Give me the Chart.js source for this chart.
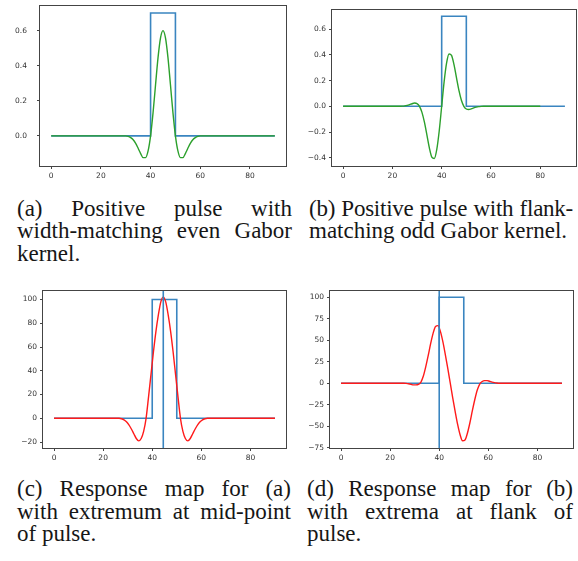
<!DOCTYPE html>
<html>
<head>
<meta charset="utf-8">
<script src="https://cdn.jsdelivr.net/npm/chart.js@4.4.0/dist/chart.umd.min.js"></script>
<style>
body{margin:0;background:#fff;width:578px;height:561px;overflow:hidden;position:relative;}
.box{position:absolute;}
.cap{position:absolute;font-family:"Liberation Serif","Times New Roman",serif;font-size:23px;line-height:22.5px;color:#161616;}
.cap .j{text-align:justify;text-align-last:justify;}
.cap .tight{letter-spacing:-0.25px;}
</style>
</head>
<body>
<div class="box" style="left:0;top:0"><canvas id="plot_a" width="290" height="185"></canvas></div>
<div class="box" style="left:290px;top:0"><canvas id="plot_b" width="288" height="185"></canvas></div>
<div class="box" style="left:0;top:282px"><canvas id="plot_c" width="290" height="185"></canvas></div>
<div class="box" style="left:290px;top:282px"><canvas id="plot_d" width="288" height="185"></canvas></div>

<div class="cap" style="left:17px;top:197.5px;width:275px">
  <div class="j">(a) Positive pulse with</div>
  <div class="j">width-matching even Gabor</div>
  <div>kernel.</div>
</div>
<div class="cap" style="left:309px;top:197.5px;width:264px">
  <div class="j tight">(b) Positive pulse with flank-</div>
  <div>matching odd Gabor kernel.</div>
</div>
<div class="cap" style="left:17px;top:478px;width:274px">
  <div class="j">(c) Response map for (a)</div>
  <div class="j">with extremum at mid-point</div>
  <div>of pulse.</div>
</div>
<div class="cap" style="left:307px;top:478px;width:266px">
  <div class="j">(d) Response map for (b)</div>
  <div class="j">with extrema at flank of</div>
  <div>pulse.</div>
</div>

<script>
// tick labels
const xTicks  = [0, 20, 40, 60, 80];
const yTicksA = [0, 0.2, 0.4, 0.6];
const yTicksB = [-0.4, -0.2, 0, 0.2, 0.4, 0.6];
const yTicksC = [-20, 0, 20, 40, 60, 80, 100];
const yTicksD = [-75, -50, -25, 0, 25, 50, 75, 100];

// the pulse (blue)
const pulseX     = [0, 40, 40, 50, 50, 90];
const pulseSmall = [0, 0, 0.7, 0.7, 0, 0];
const pulseBig   = [0, 0, 100, 100, 0, 0];

// (a) even gabor kernel
const evenX = [0, 30, 31, 32, 33, 34, 35, 36, 37, 38, 39, 40, 41, 42, 43, 44, 45,
               46, 47, 48, 49, 50, 51, 52, 53, 54, 55, 56, 57, 58, 59, 60, 90];
const evenY = [0, 0, -0.003, -0.010, -0.022, -0.043, -0.071, -0.101, -0.124, -0.124, -0.086,
               0, 0.132, 0.291, 0.446, 0.559, 0.600, 0.559, 0.446, 0.291, 0.132,
               0, -0.086, -0.124, -0.124, -0.101, -0.071, -0.043, -0.022, -0.010, -0.003, 0, 0];

// (b) odd gabor kernel
const oddX = [0, 22, 23, 24, 25, 26, 27, 28, 29, 30, 31, 32, 33, 34, 35, 36, 37, 38, 39, 40,
              41, 42, 43, 44, 45, 46, 47, 48, 49, 50, 51, 52, 53, 54, 55, 56, 57, 80];
const oddY = [0, 0, 0.0005, 0.001, 0.003, 0.007, 0.013, 0.020, 0.025, 0.021, 0,
              -0.047, -0.123, -0.222, -0.323, -0.395, -0.406, -0.337, -0.192, 0,
              0.192, 0.337, 0.406, 0.395, 0.323, 0.222, 0.123, 0.047, 0,
              -0.021, -0.025, -0.020, -0.013, -0.007, -0.003, -0.001, 0, 0];

// (c) response of the even kernel
const respEvenX = [0, 26.5, 27.5, 28.5, 29.5, 30.5, 31.5, 32.5, 33.5, 34.5, 35.5, 36.5, 37.5,
                   38.5, 39.5, 40.5, 41.5, 42.5, 43.5, 44.5, 45.5, 46.5, 47.5, 48.5, 49.5, 50.5,
                   51.5, 52.5, 53.5, 54.5, 55.5, 56.5, 57.5, 58.5, 59.5, 60.5, 61.5, 62.5, 90];
const respEvenY = [0, 0, -0.4, -1.3, -3, -5.5, -9, -13, -17, -19, -17, -11, 0,
                   18, 37, 56, 73, 87, 98, 102, 98, 87, 73, 56, 37, 18,
                   0, -11, -17, -19, -17, -13, -9, -5.5, -3, -1.3, -0.4, 0, 0];
const peakC = 44.5;

// (d) response of the odd kernel
const respOddX = [0, 25.5, 26.5, 27.5, 28.5, 29.5, 30.5, 31.5, 32.5, 33.5, 34.5, 35.5, 36.5,
                  37.5, 38.5, 39.5, 40.5, 41.5, 42.5, 43.5, 44.5, 45.5, 46.5, 47.5, 48.5, 49.5,
                  50.5, 51.5, 52.5, 53.5, 54.5, 55.5, 56.5, 57.5, 58.5, 59.5, 60.5, 61.5, 62.5,
                  63.5, 64.5, 90];
const respOddY = [0, 0, -0.2, -0.6, -1.3, -2, -2, -1.5, 1, 8, 19, 32, 46,
                  58, 66, 67, 60, 48, 33, 17, 0, -17, -33, -48, -60, -67,
                  -66, -58, -46, -32, -19, -8, -1, 2, 3, 3, 2.2, 1.3, 0.6,
                  0.2, 0, 0];
const peakD = 40;

const BLUE  = "#3a85c0";
const GREEN = "#2ca02c";
const RED   = "#ff1a1a";

// box round the plot area like matplotlib spines
const frame = {
    id: "frame",
    afterDatasetsDraw(chart){
        const a = chart.chartArea;
        const c = chart.ctx;
        c.save();
        c.strokeStyle = "#444";
        c.lineWidth = 1;
        c.strokeRect(Math.round(a.left) - 0.5, Math.round(a.top) + 0.5,
                     Math.round(a.right - a.left) + 1, Math.round(a.bottom - a.top));
        c.restore();
    }
};

function pts(xs, ys){
    return xs.map((x, i) => ({x: x, y: ys[i]}));
}

function minus(s){
    return s.replace("-", "\u2212");
}

function draw_panel(canvas, p){
    const datasets = [];

    if (p.vline !== undefined){
        datasets.push({
            data: [{x: p.vline, y: p.yMin}, {x: p.vline, y: p.yMax}],
            borderColor: BLUE, borderWidth: 1.6, tension: 0, order: 0
        });
    }
    datasets.push({
        data: pts(p.curveX, p.curveY),
        borderColor: p.color, borderWidth: 1.4,
        cubicInterpolationMode: "monotone", order: 1
    });
    datasets.push({
        data: pts(pulseX, p.pulse),
        borderColor: BLUE, borderWidth: 1.6, tension: 0, order: 2
    });

    const tickFont = {family: "DejaVu Sans", size: 7.5};

    const ctx = document.getElementById(canvas).getContext("2d");
    new Chart(ctx, {
        type: "line",
        data: {datasets: datasets},
        plugins: [frame],
        options: {
            responsive: false,
            animation: false,
            events: [],
            layout: {padding: {left: 0, bottom: 0, top: p.top, right: p.right}},
            elements: {point: {radius: 0}},
            plugins: {legend: {display: false}, tooltip: {enabled: false}},
            scales: {
                x: {
                    type: "linear", min: -4.5, max: 94.5,
                    afterBuildTicks: s => { s.ticks = xTicks.map(v => ({value: v})); },
                    afterFit: s => { s.height = 19; s.paddingLeft = 0; s.paddingRight = 0; },
                    grid: {display: true, drawOnChartArea: false, drawTicks: true, tickLength: 3, color: "#444"},
                    border: {display: false},
                    ticks: {font: tickFont, color: "#333", padding: 3, maxRotation: 0, autoSkip: false}
                },
                y: {
                    type: "linear", min: p.yMin, max: p.yMax,
                    afterBuildTicks: s => { s.ticks = p.yTicks.map(v => ({value: v})); },
                    // fixed width, and no extra room for the labels at the top
                    afterFit: s => { s.width = p.yWidth; s.paddingTop = 0; s.paddingBottom = 0; },
                    grid: {display: true, drawOnChartArea: false, drawTicks: true, tickLength: 3, color: "#444"},
                    border: {display: false},
                    ticks: {
                        font: tickFont, color: "#333", padding: p.yPad, autoSkip: false,
                        callback: v => minus(p.decimals ? v.toFixed(1) : String(v))
                    }
                }
            }
        }
    });
}

window.addEventListener("load", function(){
    draw_panel("plot_a", {curveX: evenX, curveY: evenY, color: GREEN, pulse: pulseSmall,
        yMin: -0.172, yMax: 0.746, yTicks: yTicksA, decimals: true,
        top: 5, right: 4, yWidth: 40, yPad: 10});

    draw_panel("plot_b", {curveX: oddX, curveY: oddY, color: GREEN, pulse: pulseSmall,
        yMin: -0.464, yMax: 0.756, yTicks: yTicksB, decimals: true,
        top: 9, right: 2, yWidth: 42, yPad: 3});

    draw_panel("plot_c", {curveX: respEvenX, curveY: respEvenY, color: RED, pulse: pulseBig,
        vline: peakC, yMin: -25, yMax: 108, yTicks: yTicksC, decimals: false,
        top: 8, right: 4, yWidth: 43, yPad: 3});

    draw_panel("plot_d", {curveX: respOddX, curveY: respOddY, color: RED, pulse: pulseBig,
        vline: peakD, yMin: -75.4, yMax: 108.4, yTicks: yTicksD, decimals: false,
        top: 8, right: 5, yWidth: 40, yPad: 3});
});
</script>
</body>
</html>
